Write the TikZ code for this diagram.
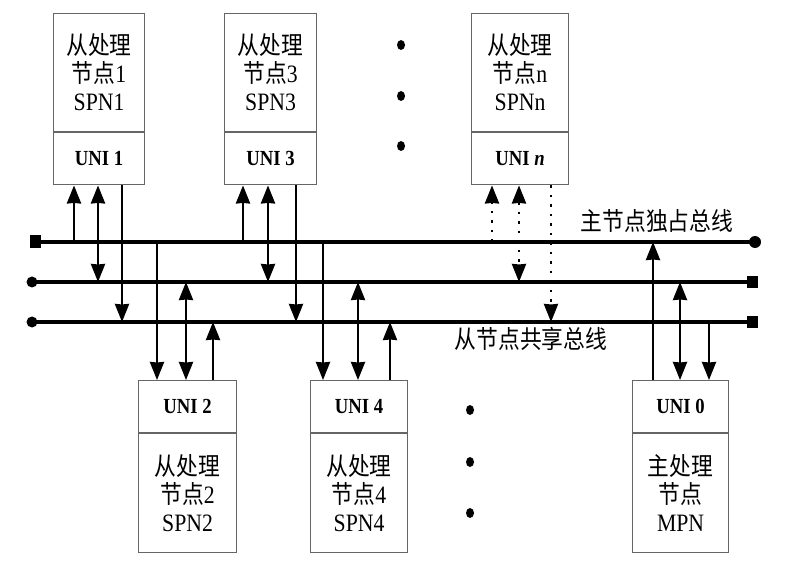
\documentclass[tikz,border=0pt]{standalone}
\usepackage{fontspec}
\setmainfont{Liberation Serif}[FakeStretch=0.87]
\newfontfamily\cjk{Noto Sans CJK SC}[FakeStretch=0.87]
\usetikzlibrary{arrows.meta,calc,shapes.geometric}
\tikzset{bighead/.tip={Stealth[length=18pt,width=14pt,inset=0.5pt]}}
\begin{document}
\begin{tikzpicture}[x=1pt,y=-1pt,
  box/.style={draw=black!60, line width=1.2pt, inner sep=0pt, align=center,
    font=\fontsize{25}{28}\selectfont},
  unibox/.style={draw=black!60, line width=1.2pt, inner sep=0pt,
    font=\fontsize{21.5}{24}\selectfont\bfseries},
  bus/.style={line width=3.4pt},
  conn/.style={line width=2.6pt},
  dotconn/.style={line width=2.6pt, dash pattern=on 2.5pt off 7pt},
  one/.style={-bighead},
  both/.style={bighead-bighead},
  lab/.style={font=\fontsize{25}{28}\selectfont\cjk, inner sep=0pt},
  bigdot/.style={ellipse, fill, inner sep=0pt, minimum width=8pt, minimum height=10pt}]
\useasboundingbox (0,0) rectangle (785,564);

% top slave nodes
\node[box, minimum width=91pt, minimum height=118pt, anchor=north west] (s1) at (53,13)
  {{\cjk 从处理}\\{\cjk 节点}1\\SPN1};
\node[unibox, minimum width=91pt, minimum height=52pt, anchor=north] (u1) at (s1.south) {UNI 1};
\node[box, minimum width=92pt, minimum height=118pt, anchor=north west] (s3) at (224,13)
  {{\cjk 从处理}\\{\cjk 节点}3\\SPN3};
\node[unibox, minimum width=92pt, minimum height=52pt, anchor=north] (u3) at (s3.south) {UNI 3};
\node[box, minimum width=97pt, minimum height=118pt, anchor=north west] (sn) at (471,13)
  {{\cjk 从处理}\\{\cjk 节点}n\\SPNn};
\node[unibox, minimum width=97pt, minimum height=52pt, anchor=north] (un) at (sn.south) {UNI \textit{n}};

% bottom nodes
\node[unibox, minimum width=98pt, minimum height=52pt, anchor=north west] (u2) at (138,380) {UNI 2};
\node[box, minimum width=98pt, minimum height=119pt, anchor=north] (s2) at (u2.south)
  {{\cjk 从处理}\\{\cjk 节点}2\\SPN2};
\node[unibox, minimum width=97pt, minimum height=52pt, anchor=north west] (u4) at (310,380) {UNI 4};
\node[box, minimum width=97pt, minimum height=119pt, anchor=north] (s4) at (u4.south)
  {{\cjk 从处理}\\{\cjk 节点}4\\SPN4};
\node[unibox, minimum width=96pt, minimum height=52pt, anchor=north west] (u0) at (632,380) {UNI 0};
\node[box, minimum width=96pt, minimum height=119pt, anchor=north] (s0) at (u0.south)
  {{\cjk 主处理}\\{\cjk 节点}\\MPN};

% ellipsis dots
\node[bigdot] (d1) at (401,45) {};
\node[bigdot] (d2) at (401,96) {};
\node[bigdot] (d3) at (401,146) {};
\node[bigdot] (d4) at (470,410) {};
\node[bigdot] (d5) at (470,462) {};
\node[bigdot] (d6) at (470,513) {};

% buses
\coordinate (b1L) at (35,242); \coordinate (b1R) at (755,242);
\coordinate (b2L) at (32,282); \coordinate (b2R) at (752,282);
\coordinate (b3L) at (32,322); \coordinate (b3R) at (752,322);
\draw[bus] (b1L) -- (b1R);
\draw[bus] (b2L) -- (b2R);
\draw[bus] (b3L) -- (b3R);
\fill (b1L) +(-5.5,-6.5) rectangle +(5.5,6.5);
\fill (b1R) circle (6);
\fill (b2L) circle (5.5);
\fill (b3L) circle (5.5);
\fill (b2R) +(-5.5,-6) rectangle +(5.5,6);
\fill (b3R) +(-5.5,-6) rectangle +(5.5,6);

\node[lab] (l1) at (657,221) {主节点独占总线};
\node[lab] (l2) at (531,339) {从节点共享总线};

% attachment points
\coordinate (a11) at ($(u1.south west)+(21,0)$);
\coordinate (a12) at ($(u1.south west)+(45,0)$);
\coordinate (a13) at ($(u1.south west)+(69,0)$);
\coordinate (a31) at ($(u3.south west)+(19,0)$);
\coordinate (a32) at ($(u3.south west)+(44,0)$);
\coordinate (a33) at ($(u3.south west)+(72,0)$);
\coordinate (an1) at ($(un.south west)+(21,0)$);
\coordinate (an2) at ($(un.south west)+(48,0)$);
\coordinate (an3) at ($(un.south west)+(80,0)$);
\coordinate (a21) at ($(u2.north west)+(19,0)$);
\coordinate (a22) at ($(u2.north west)+(48,0)$);
\coordinate (a23) at ($(u2.north west)+(75,0)$);
\coordinate (a41) at ($(u4.north west)+(13,0)$);
\coordinate (a42) at ($(u4.north west)+(48,0)$);
\coordinate (a43) at ($(u4.north west)+(80,0)$);
\coordinate (a01) at ($(u0.north west)+(21,0)$);
\coordinate (a02) at ($(u0.north west)+(48,0)$);
\coordinate (a03) at ($(u0.north west)+(77,0)$);

% SPN1
\draw[conn,one] (a11 |- b1L) -- (a11);
\draw[conn,both] (a12) -- (a12 |- b2L);
\draw[conn,one] (a13) -- (a13 |- b3L);
% SPN3
\draw[conn,one] (a31 |- b1L) -- (a31);
\draw[conn,both] (a32) -- (a32 |- b2L);
\draw[conn,one] (a33) -- (a33 |- b3L);
% SPNn
\draw[dotconn,one] (an1 |- b1L) -- (an1);
\draw[dotconn,both] (an2) -- (an2 |- b2L);
\draw[dotconn,one] (an3) -- (an3 |- b3L);
% SPN2
\draw[conn,one] (a21 |- b1L) -- (a21);
\draw[conn,both] (a22 |- b2L) -- (a22);
\draw[conn,one] (a23) -- (a23 |- b3L);
% SPN4
\draw[conn,one] (a41 |- b1L) -- (a41);
\draw[conn,both] (a42 |- b2L) -- (a42);
\draw[conn,one] (a43) -- (a43 |- b3L);
% MPN
\draw[conn,one] (a01) -- (a01 |- b1L);
\draw[conn,both] (a02 |- b2L) -- (a02);
\draw[conn,one] (a03 |- b3L) -- (a03);
\end{tikzpicture}
\end{document}
